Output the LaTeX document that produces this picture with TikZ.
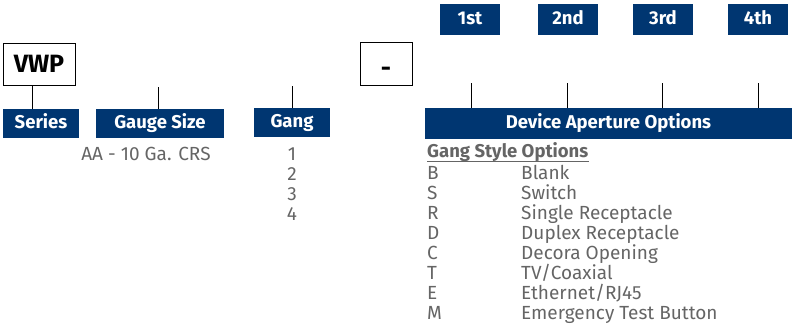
\documentclass[tikz,border=0pt]{standalone}
\usepackage{fontspec}
\setmainfont{Fira Sans}
\definecolor{navy}{HTML}{003671}
\definecolor{txtgray}{HTML}{656565}
\tikzset{
  lbl/.style={fill=navy, text=white, font=\fontsize{18.5}{20}\selectfont\bfseries, inner sep=0pt, minimum height=29pt, text height=13pt, text depth=4pt},
  codebox/.style={draw=black, line width=1pt, fill=white, inner sep=0pt, font=\fontsize{25}{28}\selectfont\bfseries, text height=17pt, text depth=1pt},
  body/.style={text=txtgray, font=\fontsize{19}{21}\selectfont, inner sep=0pt, text height=13.5pt, text depth=4pt},
  conn/.style={draw=black, line width=0.8pt}
}
\begin{document}
\begin{tikzpicture}[x=1pt,y=-1pt]
\useasboundingbox (0,0) rectangle (792,324);
% code boxes
\node[codebox, minimum width=72pt, minimum height=42pt] (vwp) at (39,64) {VWP};
\node[codebox, minimum width=52pt, minimum height=43pt] (dash) at (386,63.5) {\raisebox{-5pt}{-}};
% labels
\node[lbl, minimum width=76pt] (series) at (41,123.5) {Series};
\node[lbl, minimum width=128pt] (gauge) at (160,123.5) {Gauge Size};
\node[lbl, minimum width=76pt] (gang) at (292,122.5) {Gang};
\node[lbl, minimum width=367pt, minimum height=31pt] (dao) at (608.5,123.5) {Device Aperture Options};
\node[lbl, minimum width=60pt, minimum height=31pt] (p1) at (470,19.5) {1st};
\node[lbl, minimum width=60pt, minimum height=31pt] (p2) at (568,19.5) {2nd};
\node[lbl, minimum width=60pt, minimum height=31pt] (p3) at (663,19.5) {3rd};
\node[lbl, minimum width=60pt, minimum height=31pt] (p4) at (758,19.5) {4th};
% connector tops
\coordinate (gtop) at (158,87);
\coordinate (ngtop) at (292,86);
\coordinate (d1) at (471,83);
\coordinate (d2) at (567,83);
\coordinate (d3) at (662,83);
\coordinate (d4) at (758,83);
% connectors
\draw[conn] (vwp.south -| 32,0) -- (series.north -| 32,0);
\draw[conn] (gtop) -- (gtop |- gauge.north);
\draw[conn] (ngtop) -- (ngtop |- gang.north);
\draw[conn] (d1) -- (d1 |- dao.north);
\draw[conn] (d2) -- (d2 |- dao.north);
\draw[conn] (d3) -- (d3 |- dao.north);
\draw[conn] (d4) -- (d4 |- dao.north);
% texts
\node[body] (aa) at (146,155.5) {AA - 10 Ga. CRS};
\foreach \n [count=\i from 0] in {1,2,3,4} {
  \node[body] (g\n) at (292,155.5+20*\i) {\n};
}
\node[body, anchor=west, font=\fontsize{18.5}{21}\selectfont\bfseries] (gso) at (427,153) {Gang Style Options};
\draw[txtgray, line width=0.8pt] ([yshift=1pt]gso.south west) -- ([yshift=1pt]gso.south east);
\foreach \l/\d [count=\i from 0] in {B/Blank, S/Switch, R/Single Receptacle, D/Duplex Receptacle, C/Decora Opening, T/TV\slash Coaxial, E/Ethernet\slash RJ45, M/Emergency Test Button} {
  \node[body, anchor=west] (l\i) at (427,174.8+20*\i) {\l};
  \node[body, anchor=west] (d\i) at (521,174.8+20*\i) {\d};
}
\end{tikzpicture}
\end{document}
